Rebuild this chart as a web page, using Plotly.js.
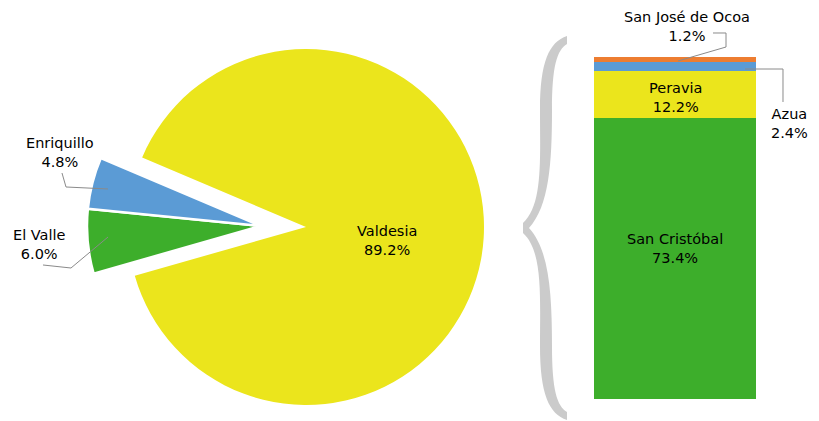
<!DOCTYPE html>
<html>
<head>
<meta charset="utf-8">
<script src="https://cdn.plot.ly/plotly-3.0.1.min.js"></script>
<style>html,body{margin:0;padding:0;background:#fff;}#chart{width:819px;height:421px;}</style>
</head>
<body>
<div id="chart"></div>
<script>
// ---- data ----
const pieLabels = ['Valdesia', 'El Valle', 'Enriquillo'];
const pieValues = [89.2, 6.0, 4.8];
const barLabels = ['San Cristóbal', 'Peravia', 'Azua', 'San José de Ocoa'];
const barValues = [73.4, 12.2, 2.4, 1.2];

// ---- styling ----
const YELLOW = '#EBE51C', GREEN = '#3DAE2B', BLUE = '#5B9BD5', ORANGE = '#ED7D31';
const T = 'rgba(0,0,0,0)';
const pieColors = {'Valdesia': YELLOW, 'El Valle': GREEN, 'Enriquillo': BLUE};
const barColors = [GREEN, YELLOW, BLUE, ORANGE];

const W = 819, H = 421;
const px = x => x / W;
const py = y => 1 - y / H;

const traces = [];
// main pie (Valdesia only visible)
traces.push({
  type: 'pie', labels: pieLabels, values: pieValues, sort: false,
  direction: 'clockwise', rotation: -67,
  marker: {colors: pieLabels.map((l, i) => i === 0 ? pieColors[l] : T), line: {width: 0}},
  textinfo: 'none', hoverinfo: 'none', showlegend: false,
  domain: {x: [px(128), px(484)], y: [py(405), py(49)]}
});
// exploded small slices
traces.push({
  type: 'pie', labels: pieLabels, values: pieValues, sort: false,
  direction: 'clockwise', rotation: -67,
  marker: {colors: pieLabels.map((l, i) => i === 0 ? T : pieColors[l]),
           line: {width: 2.5, color: pieLabels.map((l, i) => i === 0 ? T : '#ffffff')}},
  textinfo: 'none', hoverinfo: 'none', showlegend: false,
  domain: {x: [px(87), px(435)], y: [py(400), py(52)]}
});
// stacked bar
barLabels.forEach((l, i) => {
  traces.push({
    type: 'bar', x: [0], y: [barValues[i]], name: l, width: 1,
    marker: {color: barColors[i], line: {width: 0}},
    hoverinfo: 'none', showlegend: false, xaxis: 'x', yaxis: 'y'
  });
});
const barTotal = barValues.reduce((a, b) => a + b, 0);

const fmt = (name, v) => name + '<br>' + v.toFixed(1) + '%';
const labelPos = {
  'Valdesia': [387, 240.5], 'El Valle': [39, 244], 'Enriquillo': [60, 152.5],
  'San Cristóbal': [675, 248.5], 'Peravia': [676, 97.5], 'Azua': [789, 123.5],
  'San José de Ocoa': [687, 26.5]
};
const annotations = [];
pieLabels.forEach((l, i) => {
  const p = labelPos[l];
  annotations.push({xref: 'paper', yref: 'paper', x: px(p[0]), y: py(p[1]), xanchor: 'center', yanchor: 'middle',
    showarrow: false, text: fmt(l, pieValues[i])});
});
barLabels.forEach((l, i) => {
  const p = labelPos[l];
  annotations.push({xref: 'paper', yref: 'paper', x: px(p[0]), y: py(p[1]), xanchor: 'center', yanchor: 'middle',
    showarrow: false, text: fmt(l, barValues[i])});
});

function pathFromPts(pts) {
  return 'M ' + pts.map(p => px(p[0]).toFixed(5) + ',' + py(p[1]).toFixed(5)).join(' L ');
}
const leaderLines = [
  [[62, 173], [66, 187], [108, 189]],
  [[43, 265], [71, 268], [108, 237]],
  [[713, 33], [726, 33], [726, 47], [678, 61]],
  [[745, 69], [783, 69], [783, 102]]
];
const shapes = leaderLines.map(pts => ({
  type: 'path', xref: 'paper', yref: 'paper', path: pathFromPts(pts),
  line: {color: '#8a8a8a', width: 1}
}));

// curly brace (decoration)
function P(x, y) { return px(x).toFixed(5) + ',' + py(y).toFixed(5); }
const bracePath =
  'M ' + P(567, 36) +
  ' C ' + P(549, 42) + ' ' + P(540, 62) + ' ' + P(540, 110) +
  ' C ' + P(540, 160) + ' ' + P(543, 205) + ' ' + P(523, 223) +
  ' L ' + P(523, 233) +
  ' C ' + P(543, 251) + ' ' + P(540, 296) + ' ' + P(540, 346) +
  ' C ' + P(540, 394) + ' ' + P(549, 414) + ' ' + P(567, 420) +
  ' L ' + P(567, 412) +
  ' C ' + P(557, 406) + ' ' + P(552, 390) + ' ' + P(552, 346) +
  ' C ' + P(552, 292) + ' ' + P(549, 250) + ' ' + P(529, 228) +
  ' C ' + P(549, 206) + ' ' + P(552, 164) + ' ' + P(552, 110) +
  ' C ' + P(552, 66) + ' ' + P(557, 50) + ' ' + P(567, 44) + ' Z';
shapes.push({type: 'path', xref: 'paper', yref: 'paper', path: bracePath,
  fillcolor: '#cbcbcb', line: {width: 0}, layer: 'below'});

const layout = {
  width: W, height: H,
  margin: {l: 0, r: 0, t: 0, b: 0, pad: 0},
  paper_bgcolor: '#ffffff', plot_bgcolor: 'rgba(0,0,0,0)',
  font: {family: 'DejaVu Sans, Verdana, sans-serif', size: 14.5, color: '#000000'},
  barmode: 'stack', bargap: 0,
  showlegend: false,
  xaxis: {domain: [px(594), px(756)], range: [-0.5, 0.5], visible: false, fixedrange: true},
  yaxis: {domain: [py(399), py(57)], range: [0, barTotal], visible: false, fixedrange: true},
  annotations: annotations,
  shapes: shapes
};

Plotly.newPlot('chart', traces, layout, {staticPlot: true, displayModeBar: false});
</script>
</body>
</html>
